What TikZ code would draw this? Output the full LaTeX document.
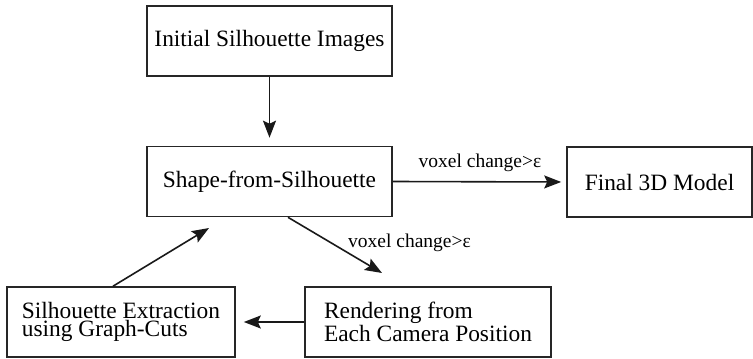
\documentclass[tikz,border=0pt]{standalone}
\usepackage{fontspec}
\setmainfont{Liberation Serif}
\usetikzlibrary{arrows.meta}
\begin{document}
\begin{tikzpicture}[x=1pt,y=-1pt,
  box/.style={draw=black!85, line width=1.6pt, rectangle, inner sep=0pt,
    minimum height=70pt, align=left,
    font={\fontsize{23.4pt}{18.3pt}\selectfont}},
  lbl/.style={font={\fontsize{19.5pt}{22pt}\selectfont}, inner sep=0pt},
  arr/.style={draw=black!90, line width=1.6pt, -{Stealth[length=17pt,width=13pt,inset=3pt]}}]
\useasboundingbox (0,0) rectangle (753,359);
\node[box, minimum width=245pt] (init) at (269.5,41) {Initial Silhouette Images};
\node[box, minimum width=245pt] (sfs) at (269.5,181.5) {Shape-from-Silhouette};
\node[box, minimum width=185pt] (final) at (659.5,182) {Final 3D Model};
\node[box, minimum width=246pt] (rend) at (428,322) {Rendering from\\Each Camera Position};
\node[box, minimum width=228pt] (sil) at (121,322) {Silhouette Extraction\\using Graph-Cuts};
\coordinate (d1) at (382,273);
\coordinate (u1) at (209,228);
\draw[arr, shorten >=8pt] (init) -- (sfs);
\draw[arr, shorten >=5pt] (sfs.east) -- (final.west);
\node[lbl, anchor=base] (l1) at (480,167) {voxel change>ε};
\draw[arr] ([xshift=18.5pt]sfs.south) -- (d1);
\node[lbl, anchor=base west] (l2) at (348,247) {voxel change>ε};
\draw[arr, shorten >=8pt] (rend.west) -- (sil.east);
\draw[arr] ([xshift=-8pt]sil.north) -- (u1);
\end{tikzpicture}
\end{document}
